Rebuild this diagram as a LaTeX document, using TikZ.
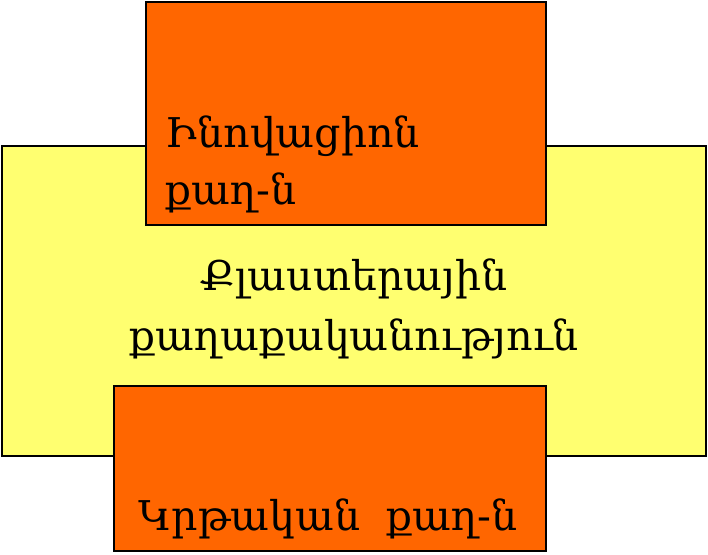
\documentclass[tikz,border=0pt]{standalone}
\usepackage{fontspec}
\setmainfont{DejaVu Serif}
\usepackage{xcolor}
\usetikzlibrary{positioning}
\definecolor{klasteryellow}{HTML}{FFFF70}
\definecolor{qaghorange}{HTML}{FF6600}

\begin{document}
\begin{tikzpicture}[x=1pt,y=-1pt,line width=1.6pt,
    back box/.style={rectangle,draw=black,fill=klasteryellow,inner sep=0pt},
    front box/.style={rectangle,draw=black,fill=qaghorange,inner sep=0pt},
    box text/.style={font=\fontsize{41}{57}\selectfont,inner sep=0pt}]
    \useasboundingbox (0,0) rectangle (708,554);
    \node[back box,minimum width=704pt,minimum height=310pt] (klaster) at (354,301) {};
    \node[box text,font=\fontsize{41}{60}\selectfont,align=center] (klastertext) at (354,309) {Քլաստերային\\քաղաքականություն};
    \node[front box,minimum width=400pt,minimum height=223pt] (inov) at (346,113.5) {};
    \node[box text,align=left,anchor=west] (inovtext) at (165,164) {Ինովացիոն\\քաղ-ն};
    \node[front box,minimum width=432pt,minimum height=165pt] (krt) at (330,468.5) {};
    \node[box text,anchor=base] (krttext) at (328,530) {Կրթական\ \ քաղ-ն};
  \end{tikzpicture}
\end{document}
